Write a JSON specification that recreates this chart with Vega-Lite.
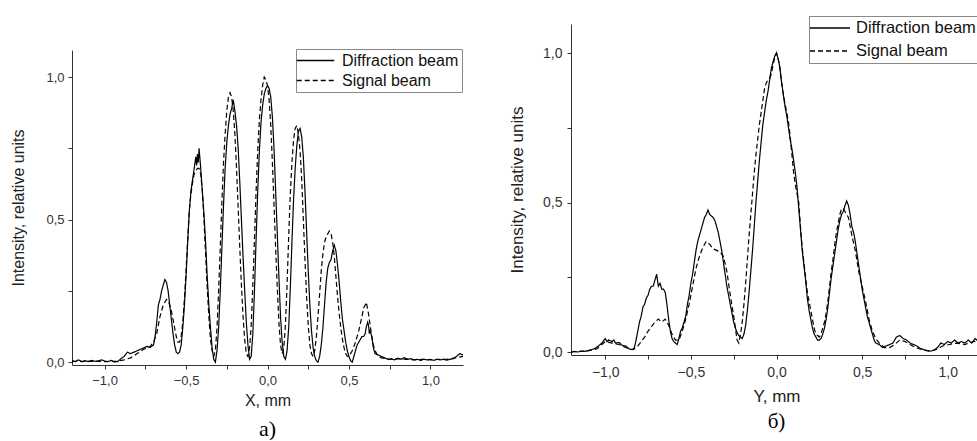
{
"$schema": "https://vega.github.io/schema/vega-lite/v6.json",
"padding": {"left": 10, "top": 15, "right": 0, "bottom": 0},
"datasets": {
"leftD": [{"x":-1.2,"y":0.006},{"x":-1.18,"y":0.002},{"x":-1.16,"y":0.008},{"x":-1.14,"y":0.001},{"x":-1.12,"y":0.005},{"x":-1.1,"y":0.002},{"x":-1.08,"y":0.006},{"x":-1.06,"y":0.003},{"x":-1.04,"y":0.004},{"x":-1.02,"y":0.008},{"x":-1.0,"y":0.004},{"x":-0.98,"y":0.002},{"x":-0.96,"y":0.006},{"x":-0.94,"y":0.001},{"x":-0.92,"y":0.002},{"x":-0.9,"y":0.012},{"x":-0.88,"y":0.02},{"x":-0.86,"y":0.035},{"x":-0.84,"y":0.03},{"x":-0.82,"y":0.035},{"x":-0.8,"y":0.04},{"x":-0.78,"y":0.045},{"x":-0.76,"y":0.05},{"x":-0.74,"y":0.055},{"x":-0.72,"y":0.052},{"x":-0.7,"y":0.06},{"x":-0.69,"y":0.09},{"x":-0.68,"y":0.14},{"x":-0.67,"y":0.2},{"x":-0.66,"y":0.22},{"x":-0.65,"y":0.25},{"x":-0.64,"y":0.27},{"x":-0.63,"y":0.29},{"x":-0.62,"y":0.28},{"x":-0.61,"y":0.25},{"x":-0.6,"y":0.2},{"x":-0.59,"y":0.15},{"x":-0.58,"y":0.1},{"x":-0.57,"y":0.06},{"x":-0.56,"y":0.035},{"x":-0.55,"y":0.03},{"x":-0.54,"y":0.035},{"x":-0.53,"y":0.06},{"x":-0.52,"y":0.12},{"x":-0.51,"y":0.2},{"x":-0.5,"y":0.3},{"x":-0.49,"y":0.42},{"x":-0.48,"y":0.53},{"x":-0.47,"y":0.6},{"x":-0.46,"y":0.64},{"x":-0.45,"y":0.68},{"x":-0.44,"y":0.72},{"x":-0.435,"y":0.69},{"x":-0.43,"y":0.73},{"x":-0.425,"y":0.7},{"x":-0.42,"y":0.75},{"x":-0.41,"y":0.68},{"x":-0.4,"y":0.6},{"x":-0.39,"y":0.52},{"x":-0.38,"y":0.42},{"x":-0.37,"y":0.3},{"x":-0.36,"y":0.2},{"x":-0.35,"y":0.12},{"x":-0.34,"y":0.05},{"x":-0.33,"y":0.01},{"x":-0.32,"y":0.0},{"x":-0.31,"y":0.04},{"x":-0.3,"y":0.12},{"x":-0.29,"y":0.25},{"x":-0.28,"y":0.4},{"x":-0.27,"y":0.55},{"x":-0.26,"y":0.68},{"x":-0.25,"y":0.77},{"x":-0.24,"y":0.83},{"x":-0.23,"y":0.87},{"x":-0.22,"y":0.89},{"x":-0.21,"y":0.92},{"x":-0.2,"y":0.88},{"x":-0.19,"y":0.83},{"x":-0.18,"y":0.75},{"x":-0.17,"y":0.63},{"x":-0.16,"y":0.5},{"x":-0.15,"y":0.37},{"x":-0.14,"y":0.25},{"x":-0.13,"y":0.14},{"x":-0.12,"y":0.06},{"x":-0.11,"y":0.01},{"x":-0.1,"y":0.02},{"x":-0.09,"y":0.1},{"x":-0.08,"y":0.25},{"x":-0.07,"y":0.43},{"x":-0.06,"y":0.6},{"x":-0.05,"y":0.74},{"x":-0.04,"y":0.84},{"x":-0.03,"y":0.9},{"x":-0.02,"y":0.94},{"x":-0.01,"y":0.96},{"x":0.0,"y":0.97},{"x":0.01,"y":0.96},{"x":0.02,"y":0.93},{"x":0.03,"y":0.86},{"x":0.04,"y":0.75},{"x":0.05,"y":0.6},{"x":0.06,"y":0.45},{"x":0.07,"y":0.3},{"x":0.08,"y":0.16},{"x":0.09,"y":0.07},{"x":0.1,"y":0.02},{"x":0.11,"y":0.01},{"x":0.12,"y":0.04},{"x":0.13,"y":0.12},{"x":0.14,"y":0.26},{"x":0.15,"y":0.42},{"x":0.16,"y":0.57},{"x":0.17,"y":0.68},{"x":0.18,"y":0.76},{"x":0.19,"y":0.81},{"x":0.2,"y":0.82},{"x":0.21,"y":0.79},{"x":0.22,"y":0.72},{"x":0.23,"y":0.6},{"x":0.24,"y":0.46},{"x":0.25,"y":0.32},{"x":0.26,"y":0.2},{"x":0.27,"y":0.11},{"x":0.28,"y":0.05},{"x":0.29,"y":0.02},{"x":0.3,"y":0.005},{"x":0.31,"y":0.0},{"x":0.32,"y":0.02},{"x":0.33,"y":0.06},{"x":0.34,"y":0.12},{"x":0.35,"y":0.2},{"x":0.36,"y":0.28},{"x":0.37,"y":0.33},{"x":0.38,"y":0.35},{"x":0.39,"y":0.36},{"x":0.4,"y":0.39},{"x":0.41,"y":0.41},{"x":0.42,"y":0.39},{"x":0.43,"y":0.34},{"x":0.44,"y":0.28},{"x":0.45,"y":0.21},{"x":0.46,"y":0.15},{"x":0.47,"y":0.11},{"x":0.48,"y":0.07},{"x":0.49,"y":0.04},{"x":0.5,"y":0.02},{"x":0.51,"y":0.005},{"x":0.52,"y":0.0},{"x":0.53,"y":0.02},{"x":0.54,"y":0.04},{"x":0.55,"y":0.06},{"x":0.56,"y":0.07},{"x":0.57,"y":0.08},{"x":0.58,"y":0.09},{"x":0.59,"y":0.09},{"x":0.6,"y":0.1},{"x":0.605,"y":0.12},{"x":0.61,"y":0.13},{"x":0.615,"y":0.14},{"x":0.62,"y":0.13},{"x":0.625,"y":0.1},{"x":0.63,"y":0.11},{"x":0.64,"y":0.09},{"x":0.65,"y":0.05},{"x":0.66,"y":0.03},{"x":0.68,"y":0.025},{"x":0.7,"y":0.02},{"x":0.72,"y":0.015},{"x":0.74,"y":0.01},{"x":0.76,"y":0.012},{"x":0.78,"y":0.008},{"x":0.8,"y":0.014},{"x":0.82,"y":0.01},{"x":0.84,"y":0.016},{"x":0.86,"y":0.01},{"x":0.88,"y":0.012},{"x":0.9,"y":0.008},{"x":0.92,"y":0.01},{"x":0.94,"y":0.006},{"x":0.96,"y":0.01},{"x":0.98,"y":0.008},{"x":1.0,"y":0.01},{"x":1.02,"y":0.006},{"x":1.04,"y":0.01},{"x":1.06,"y":0.008},{"x":1.08,"y":0.01},{"x":1.1,"y":0.007},{"x":1.12,"y":0.01},{"x":1.14,"y":0.012},{"x":1.16,"y":0.02},{"x":1.18,"y":0.03},{"x":1.2,"y":0.025}],
"leftS": [{"x":-1.2,"y":0.002},{"x":-1.1,"y":0.003},{"x":-1.0,"y":0.002},{"x":-0.92,"y":0.003},{"x":-0.88,"y":0.008},{"x":-0.84,"y":0.015},{"x":-0.8,"y":0.03},{"x":-0.76,"y":0.045},{"x":-0.72,"y":0.055},{"x":-0.7,"y":0.07},{"x":-0.68,"y":0.1},{"x":-0.66,"y":0.16},{"x":-0.64,"y":0.2},{"x":-0.63,"y":0.21},{"x":-0.62,"y":0.22},{"x":-0.61,"y":0.215},{"x":-0.6,"y":0.2},{"x":-0.59,"y":0.18},{"x":-0.58,"y":0.15},{"x":-0.57,"y":0.12},{"x":-0.56,"y":0.09},{"x":-0.55,"y":0.07},{"x":-0.54,"y":0.07},{"x":-0.53,"y":0.09},{"x":-0.52,"y":0.14},{"x":-0.51,"y":0.22},{"x":-0.5,"y":0.32},{"x":-0.49,"y":0.43},{"x":-0.48,"y":0.53},{"x":-0.47,"y":0.59},{"x":-0.46,"y":0.63},{"x":-0.45,"y":0.66},{"x":-0.44,"y":0.67},{"x":-0.43,"y":0.68},{"x":-0.42,"y":0.68},{"x":-0.41,"y":0.66},{"x":-0.4,"y":0.6},{"x":-0.39,"y":0.5},{"x":-0.38,"y":0.38},{"x":-0.37,"y":0.26},{"x":-0.36,"y":0.16},{"x":-0.35,"y":0.08},{"x":-0.34,"y":0.04},{"x":-0.33,"y":0.02},{"x":-0.32,"y":0.04},{"x":-0.31,"y":0.12},{"x":-0.3,"y":0.25},{"x":-0.29,"y":0.4},{"x":-0.28,"y":0.56},{"x":-0.27,"y":0.7},{"x":-0.26,"y":0.8},{"x":-0.25,"y":0.88},{"x":-0.24,"y":0.93},{"x":-0.23,"y":0.945},{"x":-0.22,"y":0.93},{"x":-0.21,"y":0.88},{"x":-0.2,"y":0.8},{"x":-0.19,"y":0.68},{"x":-0.18,"y":0.54},{"x":-0.17,"y":0.4},{"x":-0.16,"y":0.27},{"x":-0.15,"y":0.16},{"x":-0.14,"y":0.08},{"x":-0.13,"y":0.03},{"x":-0.12,"y":0.02},{"x":-0.11,"y":0.05},{"x":-0.1,"y":0.13},{"x":-0.09,"y":0.27},{"x":-0.08,"y":0.43},{"x":-0.07,"y":0.6},{"x":-0.06,"y":0.74},{"x":-0.05,"y":0.85},{"x":-0.04,"y":0.92},{"x":-0.03,"y":0.97},{"x":-0.02,"y":1.0},{"x":-0.01,"y":0.99},{"x":0.0,"y":0.97},{"x":0.01,"y":0.92},{"x":0.02,"y":0.83},{"x":0.03,"y":0.7},{"x":0.04,"y":0.55},{"x":0.05,"y":0.4},{"x":0.06,"y":0.26},{"x":0.07,"y":0.14},{"x":0.08,"y":0.06},{"x":0.09,"y":0.03},{"x":0.1,"y":0.05},{"x":0.11,"y":0.13},{"x":0.12,"y":0.27},{"x":0.13,"y":0.44},{"x":0.14,"y":0.59},{"x":0.15,"y":0.7},{"x":0.16,"y":0.78},{"x":0.17,"y":0.82},{"x":0.18,"y":0.83},{"x":0.19,"y":0.8},{"x":0.2,"y":0.74},{"x":0.21,"y":0.64},{"x":0.22,"y":0.5},{"x":0.23,"y":0.36},{"x":0.24,"y":0.23},{"x":0.25,"y":0.13},{"x":0.26,"y":0.06},{"x":0.27,"y":0.03},{"x":0.28,"y":0.02},{"x":0.29,"y":0.04},{"x":0.3,"y":0.09},{"x":0.31,"y":0.16},{"x":0.32,"y":0.24},{"x":0.33,"y":0.32},{"x":0.34,"y":0.38},{"x":0.35,"y":0.42},{"x":0.36,"y":0.44},{"x":0.37,"y":0.45},{"x":0.38,"y":0.46},{"x":0.39,"y":0.45},{"x":0.4,"y":0.42},{"x":0.41,"y":0.37},{"x":0.42,"y":0.3},{"x":0.43,"y":0.23},{"x":0.44,"y":0.17},{"x":0.45,"y":0.12},{"x":0.46,"y":0.08},{"x":0.47,"y":0.05},{"x":0.48,"y":0.03},{"x":0.49,"y":0.02},{"x":0.5,"y":0.02},{"x":0.52,"y":0.04},{"x":0.54,"y":0.07},{"x":0.56,"y":0.11},{"x":0.58,"y":0.16},{"x":0.59,"y":0.19},{"x":0.6,"y":0.2},{"x":0.605,"y":0.21},{"x":0.61,"y":0.2},{"x":0.62,"y":0.17},{"x":0.63,"y":0.13},{"x":0.64,"y":0.09},{"x":0.65,"y":0.06},{"x":0.66,"y":0.04},{"x":0.68,"y":0.02},{"x":0.7,"y":0.015},{"x":0.75,"y":0.01},{"x":0.8,"y":0.012},{"x":0.85,"y":0.01},{"x":0.9,"y":0.008},{"x":0.95,"y":0.01},{"x":1.0,"y":0.008},{"x":1.05,"y":0.01},{"x":1.1,"y":0.01},{"x":1.15,"y":0.015},{"x":1.2,"y":0.02}],
"rightD": [{"x":-1.2,"y":0.0},{"x":-1.18,"y":0.002},{"x":-1.16,"y":0.0},{"x":-1.14,"y":0.003},{"x":-1.12,"y":0.002},{"x":-1.1,"y":0.005},{"x":-1.08,"y":0.008},{"x":-1.06,"y":0.012},{"x":-1.04,"y":0.02},{"x":-1.02,"y":0.03},{"x":-1.0,"y":0.045},{"x":-0.99,"y":0.035},{"x":-0.98,"y":0.04},{"x":-0.96,"y":0.035},{"x":-0.95,"y":0.04},{"x":-0.94,"y":0.03},{"x":-0.92,"y":0.032},{"x":-0.9,"y":0.022},{"x":-0.88,"y":0.02},{"x":-0.86,"y":0.01},{"x":-0.84,"y":0.008},{"x":-0.83,"y":0.015},{"x":-0.82,"y":0.04},{"x":-0.81,"y":0.07},{"x":-0.8,"y":0.1},{"x":-0.79,"y":0.12},{"x":-0.78,"y":0.15},{"x":-0.77,"y":0.16},{"x":-0.76,"y":0.18},{"x":-0.75,"y":0.19},{"x":-0.74,"y":0.21},{"x":-0.73,"y":0.22},{"x":-0.72,"y":0.22},{"x":-0.71,"y":0.24},{"x":-0.7,"y":0.26},{"x":-0.69,"y":0.22},{"x":-0.68,"y":0.23},{"x":-0.67,"y":0.21},{"x":-0.66,"y":0.21},{"x":-0.65,"y":0.2},{"x":-0.64,"y":0.16},{"x":-0.63,"y":0.11},{"x":-0.62,"y":0.07},{"x":-0.61,"y":0.045},{"x":-0.6,"y":0.035},{"x":-0.59,"y":0.03},{"x":-0.58,"y":0.025},{"x":-0.57,"y":0.045},{"x":-0.56,"y":0.07},{"x":-0.55,"y":0.08},{"x":-0.54,"y":0.1},{"x":-0.53,"y":0.12},{"x":-0.52,"y":0.16},{"x":-0.51,"y":0.19},{"x":-0.5,"y":0.23},{"x":-0.49,"y":0.26},{"x":-0.48,"y":0.3},{"x":-0.47,"y":0.34},{"x":-0.46,"y":0.37},{"x":-0.45,"y":0.39},{"x":-0.44,"y":0.41},{"x":-0.43,"y":0.43},{"x":-0.42,"y":0.45},{"x":-0.41,"y":0.46},{"x":-0.4,"y":0.475},{"x":-0.39,"y":0.46},{"x":-0.38,"y":0.455},{"x":-0.37,"y":0.45},{"x":-0.36,"y":0.44},{"x":-0.35,"y":0.42},{"x":-0.34,"y":0.4},{"x":-0.33,"y":0.37},{"x":-0.32,"y":0.34},{"x":-0.31,"y":0.3},{"x":-0.3,"y":0.26},{"x":-0.29,"y":0.22},{"x":-0.28,"y":0.19},{"x":-0.27,"y":0.16},{"x":-0.26,"y":0.13},{"x":-0.25,"y":0.1},{"x":-0.24,"y":0.08},{"x":-0.23,"y":0.065},{"x":-0.22,"y":0.055},{"x":-0.21,"y":0.05},{"x":-0.2,"y":0.045},{"x":-0.19,"y":0.06},{"x":-0.18,"y":0.09},{"x":-0.17,"y":0.14},{"x":-0.16,"y":0.2},{"x":-0.15,"y":0.27},{"x":-0.14,"y":0.34},{"x":-0.13,"y":0.42},{"x":-0.12,"y":0.5},{"x":-0.11,"y":0.57},{"x":-0.1,"y":0.64},{"x":-0.09,"y":0.7},{"x":-0.08,"y":0.76},{"x":-0.07,"y":0.8},{"x":-0.06,"y":0.84},{"x":-0.05,"y":0.87},{"x":-0.04,"y":0.91},{"x":-0.03,"y":0.95},{"x":-0.02,"y":0.97},{"x":-0.01,"y":0.99},{"x":0.0,"y":1.0},{"x":0.01,"y":0.98},{"x":0.02,"y":0.95},{"x":0.03,"y":0.9},{"x":0.04,"y":0.86},{"x":0.05,"y":0.82},{"x":0.06,"y":0.79},{"x":0.07,"y":0.75},{"x":0.08,"y":0.71},{"x":0.09,"y":0.68},{"x":0.1,"y":0.64},{"x":0.11,"y":0.6},{"x":0.12,"y":0.55},{"x":0.13,"y":0.48},{"x":0.14,"y":0.41},{"x":0.15,"y":0.34},{"x":0.16,"y":0.29},{"x":0.17,"y":0.24},{"x":0.18,"y":0.18},{"x":0.19,"y":0.14},{"x":0.2,"y":0.11},{"x":0.21,"y":0.08},{"x":0.22,"y":0.06},{"x":0.23,"y":0.05},{"x":0.24,"y":0.04},{"x":0.25,"y":0.04},{"x":0.26,"y":0.045},{"x":0.27,"y":0.06},{"x":0.28,"y":0.08},{"x":0.29,"y":0.11},{"x":0.3,"y":0.15},{"x":0.31,"y":0.2},{"x":0.32,"y":0.25},{"x":0.33,"y":0.29},{"x":0.34,"y":0.33},{"x":0.35,"y":0.37},{"x":0.36,"y":0.41},{"x":0.37,"y":0.44},{"x":0.38,"y":0.46},{"x":0.39,"y":0.47},{"x":0.4,"y":0.49},{"x":0.41,"y":0.505},{"x":0.42,"y":0.49},{"x":0.43,"y":0.46},{"x":0.44,"y":0.42},{"x":0.45,"y":0.4},{"x":0.46,"y":0.37},{"x":0.47,"y":0.33},{"x":0.48,"y":0.29},{"x":0.49,"y":0.25},{"x":0.5,"y":0.21},{"x":0.51,"y":0.18},{"x":0.52,"y":0.15},{"x":0.53,"y":0.12},{"x":0.54,"y":0.1},{"x":0.55,"y":0.08},{"x":0.56,"y":0.06},{"x":0.57,"y":0.04},{"x":0.58,"y":0.03},{"x":0.6,"y":0.025},{"x":0.62,"y":0.015},{"x":0.64,"y":0.02},{"x":0.66,"y":0.025},{"x":0.68,"y":0.03},{"x":0.7,"y":0.05},{"x":0.72,"y":0.055},{"x":0.74,"y":0.045},{"x":0.76,"y":0.04},{"x":0.78,"y":0.03},{"x":0.8,"y":0.025},{"x":0.82,"y":0.02},{"x":0.84,"y":0.012},{"x":0.86,"y":0.008},{"x":0.88,"y":0.005},{"x":0.9,"y":0.003},{"x":0.92,"y":0.006},{"x":0.94,"y":0.015},{"x":0.96,"y":0.03},{"x":0.98,"y":0.025},{"x":1.0,"y":0.035},{"x":1.02,"y":0.03},{"x":1.04,"y":0.04},{"x":1.06,"y":0.03},{"x":1.08,"y":0.035},{"x":1.1,"y":0.03},{"x":1.12,"y":0.04},{"x":1.14,"y":0.03},{"x":1.16,"y":0.045},{"x":1.18,"y":0.035},{"x":1.2,"y":0.04}],
"rightS": [{"x":-1.2,"y":0.0},{"x":-1.15,"y":0.002},{"x":-1.1,"y":0.004},{"x":-1.05,"y":0.01},{"x":-1.02,"y":0.025},{"x":-1.0,"y":0.035},{"x":-0.96,"y":0.03},{"x":-0.92,"y":0.025},{"x":-0.88,"y":0.015},{"x":-0.85,"y":0.008},{"x":-0.83,"y":0.01},{"x":-0.81,"y":0.02},{"x":-0.79,"y":0.035},{"x":-0.77,"y":0.05},{"x":-0.75,"y":0.07},{"x":-0.73,"y":0.085},{"x":-0.71,"y":0.1},{"x":-0.69,"y":0.11},{"x":-0.67,"y":0.1},{"x":-0.65,"y":0.11},{"x":-0.63,"y":0.09},{"x":-0.61,"y":0.06},{"x":-0.59,"y":0.04},{"x":-0.57,"y":0.04},{"x":-0.55,"y":0.07},{"x":-0.53,"y":0.11},{"x":-0.51,"y":0.16},{"x":-0.49,"y":0.22},{"x":-0.47,"y":0.28},{"x":-0.45,"y":0.32},{"x":-0.43,"y":0.35},{"x":-0.41,"y":0.37},{"x":-0.39,"y":0.36},{"x":-0.37,"y":0.345},{"x":-0.35,"y":0.34},{"x":-0.33,"y":0.335},{"x":-0.31,"y":0.32},{"x":-0.29,"y":0.27},{"x":-0.27,"y":0.19},{"x":-0.25,"y":0.12},{"x":-0.24,"y":0.08},{"x":-0.23,"y":0.04},{"x":-0.22,"y":0.03},{"x":-0.21,"y":0.06},{"x":-0.2,"y":0.1},{"x":-0.19,"y":0.16},{"x":-0.18,"y":0.23},{"x":-0.17,"y":0.31},{"x":-0.16,"y":0.39},{"x":-0.15,"y":0.46},{"x":-0.14,"y":0.53},{"x":-0.13,"y":0.6},{"x":-0.12,"y":0.66},{"x":-0.11,"y":0.71},{"x":-0.1,"y":0.76},{"x":-0.09,"y":0.8},{"x":-0.08,"y":0.84},{"x":-0.07,"y":0.88},{"x":-0.06,"y":0.9},{"x":-0.05,"y":0.91},{"x":-0.04,"y":0.915},{"x":-0.03,"y":0.93},{"x":-0.02,"y":0.96},{"x":-0.01,"y":0.985},{"x":0.0,"y":1.0},{"x":0.01,"y":0.98},{"x":0.02,"y":0.95},{"x":0.03,"y":0.9},{"x":0.04,"y":0.86},{"x":0.05,"y":0.83},{"x":0.06,"y":0.8},{"x":0.07,"y":0.77},{"x":0.08,"y":0.72},{"x":0.09,"y":0.66},{"x":0.1,"y":0.6},{"x":0.11,"y":0.56},{"x":0.12,"y":0.53},{"x":0.13,"y":0.5},{"x":0.14,"y":0.42},{"x":0.15,"y":0.35},{"x":0.16,"y":0.3},{"x":0.17,"y":0.25},{"x":0.18,"y":0.2},{"x":0.19,"y":0.17},{"x":0.2,"y":0.14},{"x":0.21,"y":0.11},{"x":0.22,"y":0.08},{"x":0.23,"y":0.06},{"x":0.24,"y":0.055},{"x":0.25,"y":0.05},{"x":0.26,"y":0.06},{"x":0.27,"y":0.08},{"x":0.28,"y":0.1},{"x":0.29,"y":0.13},{"x":0.3,"y":0.17},{"x":0.31,"y":0.22},{"x":0.32,"y":0.27},{"x":0.33,"y":0.31},{"x":0.34,"y":0.36},{"x":0.35,"y":0.4},{"x":0.36,"y":0.43},{"x":0.37,"y":0.46},{"x":0.38,"y":0.48},{"x":0.39,"y":0.48},{"x":0.4,"y":0.47},{"x":0.41,"y":0.46},{"x":0.42,"y":0.45},{"x":0.43,"y":0.42},{"x":0.44,"y":0.39},{"x":0.46,"y":0.34},{"x":0.48,"y":0.27},{"x":0.5,"y":0.22},{"x":0.52,"y":0.17},{"x":0.54,"y":0.11},{"x":0.56,"y":0.07},{"x":0.58,"y":0.045},{"x":0.6,"y":0.03},{"x":0.63,"y":0.015},{"x":0.66,"y":0.015},{"x":0.69,"y":0.025},{"x":0.72,"y":0.04},{"x":0.75,"y":0.035},{"x":0.78,"y":0.025},{"x":0.81,"y":0.015},{"x":0.85,"y":0.008},{"x":0.89,"y":0.003},{"x":0.93,"y":0.008},{"x":0.97,"y":0.02},{"x":1.01,"y":0.025},{"x":1.05,"y":0.03},{"x":1.1,"y":0.025},{"x":1.15,"y":0.035},{"x":1.2,"y":0.04}]
},
"resolve": {"scale": {"strokeDash": "independent"}, "legend": {"strokeDash": "independent"}},
"spacing": 45,
"hconcat": [
 {
  "spacing": 0,
  "vconcat": [
   {"width": 391, "height": 26, "data": {"values": []}, "mark": "point"},
   {
    "width": 391, "height": 315,
    "title": {"text": "a)", "orient": "bottom", "font": "Liberation Serif", "fontSize": 22, "fontWeight": "normal", "color": "black", "offset": 11, "anchor": "middle", "frame": "group"},
    "layer": [
     {"data": {"name": "leftD"},
      "mark": {"type": "line", "color": "black", "strokeWidth": 1.2, "clip": true},
      "encoding": {
       "x": {"field": "x", "type": "quantitative", "scale": {"domain": [-1.2, 1.2], "nice": false, "zero": false},
             "axis": {"title": "X, mm", "values": [-1, -0.75, -0.5, -0.25, 0, 0.25, 0.5, 0.75, 1], "labelExpr": "abs(datum.value*2 - round(datum.value*2)) < 0.001 ? replace(format(datum.value, '.1f'), '.', ',') : ''", "labelFontSize": 13, "titleFontSize": 16, "labelPadding": 5, "titlePadding": 5, "labelFlush": false}},
       "y": {"field": "y", "type": "quantitative", "scale": {"domain": [-0.01, 1.095], "nice": false, "zero": false},
             "axis": {"title": "Intensity, relative units", "values": [0, 0.25, 0.5, 0.75, 1], "labelExpr": "abs(datum.value*2 - round(datum.value*2)) < 0.001 ? replace(format(datum.value, '.1f'), '.', ',') : ''", "labelFontSize": 13, "titleFontSize": 16, "labelPadding": 4, "titlePadding": 19}},
       "strokeDash": {"datum": "Diffraction beam", "type": "nominal",
             "scale": {"domain": ["Diffraction beam", "Signal beam"], "range": [[1, 0], [5, 3]]},
             "legend": {"title": null, "orient": "none", "legendX": 224, "legendY": 25, "labelFontSize": 16, "symbolType": "M-2.5,0H2.5", "symbolSize": 225, "symbolOffset": 8, "labelOffset": 18, "padding": 3, "rowPadding": 3}}
      }},
     {"data": {"name": "leftS"},
      "mark": {"type": "line", "color": "black", "strokeWidth": 1.2, "clip": true},
      "encoding": {
       "x": {"field": "x", "type": "quantitative"},
       "y": {"field": "y", "type": "quantitative"},
       "strokeDash": {"datum": "Signal beam", "type": "nominal"}
      }}
    ]
   }
  ]
 },
 {
  "width": 411, "height": 331,
  "title": {"text": "б)", "orient": "bottom", "font": "Liberation Serif", "fontSize": 21, "fontWeight": "normal", "color": "black", "offset": 7, "anchor": "middle", "frame": "group"},
  "layer": [
   {"data": {"name": "rightD"},
    "mark": {"type": "line", "color": "black", "strokeWidth": 1.2, "clip": true},
    "encoding": {
     "x": {"field": "x", "type": "quantitative", "scale": {"domain": [-1.2, 1.2], "nice": false, "zero": false},
           "axis": {"title": "Y, mm", "values": [-1, -0.75, -0.5, -0.25, 0, 0.25, 0.5, 0.75, 1], "labelExpr": "abs(datum.value*2 - round(datum.value*2)) < 0.001 ? replace(format(datum.value, '.1f'), '.', ',') : ''", "labelFontSize": 14, "titleFontSize": 17, "labelPadding": 6, "titlePadding": 9, "labelFlush": false}},
     "y": {"field": "y", "type": "quantitative", "scale": {"domain": [-0.01, 1.097], "nice": false, "zero": false},
           "axis": {"title": "Intensity, relative units", "values": [0, 0.25, 0.5, 0.75, 1], "labelExpr": "abs(datum.value*2 - round(datum.value*2)) < 0.001 ? replace(format(datum.value, '.1f'), '.', ',') : ''", "labelFontSize": 14, "titleFontSize": 17, "labelPadding": 5, "titlePadding": 16}},
     "strokeDash": {"datum": "Diffraction beam", "type": "nominal",
           "scale": {"domain": ["Diffraction beam", "Signal beam"], "range": [[1, 0], [5, 3]]},
           "legend": {"title": null, "orient": "none", "legendX": 238, "legendY": -8, "labelFontSize": 16.5, "symbolType": "M-2.5,0H2.5", "symbolSize": 256, "symbolOffset": 9, "labelOffset": 17, "padding": 3, "rowPadding": 5}}
    }},
   {"data": {"name": "rightS"},
    "mark": {"type": "line", "color": "black", "strokeWidth": 1.2, "clip": true},
    "encoding": {
     "x": {"field": "x", "type": "quantitative"},
     "y": {"field": "y", "type": "quantitative"},
     "strokeDash": {"datum": "Signal beam", "type": "nominal"}
    }}
  ]
 }
],
"config": {
 "view": {"stroke": null},
 "font": "Liberation Sans",
 "axis": {"grid": false, "domainColor": "#333", "tickColor": "#333", "labelColor": "#333", "titleColor": "#222", "titleFontWeight": "normal", "tickSize": 4, "domainWidth": 1, "tickWidth": 1},
 "legend": {"symbolStrokeColor": "black", "symbolStrokeWidth": 1.3, "symbolFillColor": "transparent", "strokeColor": "#888", "fillColor": "white", "labelColor": "#111", "labelFont": "Liberation Sans", "cornerRadius": 0}
}
}
